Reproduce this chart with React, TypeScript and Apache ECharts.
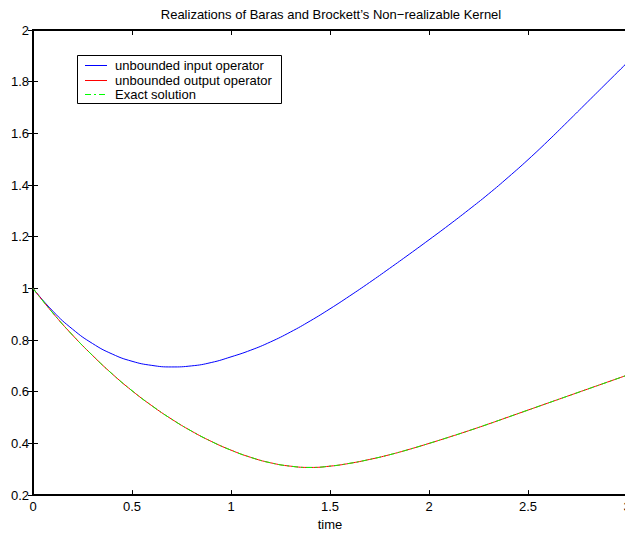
import React, { useEffect, useRef } from "react";
import * as echarts from "echarts";

const TITLE = "Realizations of Baras and Brockett\u2019s Non\u2212realizable Kernel";
const X_LABEL = "time";
const SERIES_NAMES = ["unbounded input operator", "unbounded output operator", "Exact solution"];
const SERIES_COLORS = ["#0000ff", "#ff0000", "#00ff00"];

const TIME = [0, 0.1, 0.2, 0.3, 0.4, 0.5, 0.6, 0.7, 0.8, 0.9, 1.0, 1.1, 1.2, 1.3, 1.4, 1.5, 1.6, 1.7, 1.8, 1.9, 2.0, 2.1, 2.2, 2.3, 2.4, 2.5, 2.6, 2.7, 2.8, 2.9, 3.0];
const INPUT_OP = [1.0, 0.912, 0.842, 0.787, 0.746, 0.718, 0.702, 0.696, 0.7, 0.713, 0.735, 0.761, 0.793, 0.831, 0.874, 0.921, 0.971, 1.023, 1.077, 1.132, 1.188, 1.245, 1.304, 1.365, 1.43, 1.498, 1.57, 1.645, 1.721, 1.797, 1.873];
const OUTPUT_OP = [1.0, 0.905, 0.819, 0.741, 0.669, 0.604, 0.546, 0.494, 0.448, 0.408, 0.374, 0.346, 0.325, 0.312, 0.307, 0.312, 0.323, 0.338, 0.356, 0.377, 0.4, 0.424, 0.449, 0.475, 0.502, 0.529, 0.556, 0.583, 0.61, 0.637, 0.664];
const EXACT = [1.0, 0.905, 0.819, 0.741, 0.669, 0.604, 0.546, 0.494, 0.448, 0.408, 0.374, 0.346, 0.325, 0.312, 0.307, 0.312, 0.323, 0.338, 0.356, 0.377, 0.4, 0.424, 0.449, 0.475, 0.502, 0.529, 0.556, 0.583, 0.61, 0.637, 0.664];

const FONT = "'Liberation Sans', Arial, Helvetica, sans-serif";
const DASH = [6, 3, 2, 3];

export default function App() {
  const ref = useRef<HTMLDivElement>(null);
  useEffect(() => {
    if (!ref.current) return;
    const chart = echarts.init(ref.current, null, { renderer: "svg" });
    const pts = (ys: number[]) => TIME.map((t, i) => [t, ys[i]]);
    const axisLine = { show: true, lineStyle: { color: "#000", width: 2 } };
    const tick = { show: true, inside: true, length: 5, lineStyle: { color: "#000", width: 1 } };

    const rowY = [65.5, 80.5, 94.5];
    const legendGraphic: any[] = [
      {
        type: "rect",
        shape: { x: 77.5, y: 55.5, width: 204, height: 48 },
        style: { fill: "#fff", stroke: "#000", lineWidth: 1 },
        z: 100,
      },
    ];
    SERIES_NAMES.forEach((n, i) => {
      legendGraphic.push({
        type: "line",
        shape: { x1: 85, y1: rowY[i], x2: 107, y2: rowY[i] },
        style: { stroke: SERIES_COLORS[i], lineWidth: 1, lineDash: i === 2 ? DASH : null },
        z: 101,
      });
      legendGraphic.push({
        type: "text",
        x: 115,
        y: rowY[i],
        style: {
          text: n,
          fill: "#000",
          font: `13px ${FONT}`,
          verticalAlign: "middle",
          align: "left",
        },
        z: 101,
      });
    });

    chart.setOption({
      animation: false,
      backgroundColor: "#fff",
      textStyle: { fontFamily: FONT, color: "#000" },
      title: {
        text: TITLE,
        left: 331,
        textAlign: "center",
        top: 8,
        padding: 0,
        textStyle: { fontFamily: FONT, fontSize: 13, fontWeight: "normal", color: "#000" },
      },
      grid: { left: 33, right: 13, top: 30, bottom: 36, containLabel: false },
      graphic: legendGraphic,
      xAxis: [
        {
          type: "value",
          min: 0,
          max: 3,
          interval: 0.5,
          name: X_LABEL,
          nameLocation: "middle",
          nameGap: 21,
          nameTextStyle: { fontFamily: FONT, fontSize: 13, color: "#000" },
          axisLine,
          axisTick: tick,
          axisLabel: { fontFamily: FONT, fontSize: 13, color: "#000", margin: 5 },
          splitLine: { show: false },
        },
        {
          type: "value",
          position: "top",
          min: 0,
          max: 3,
          interval: 0.5,
          axisLine,
          axisTick: tick,
          axisLabel: { show: false },
          splitLine: { show: false },
        },
      ],
      yAxis: [
        {
          type: "value",
          min: 0.2,
          max: 2,
          interval: 0.2,
          axisLine,
          axisTick: tick,
          axisLabel: {
            fontFamily: FONT,
            fontSize: 13,
            color: "#000",
            margin: 4,
            formatter: (v: number) => String(Math.round(v * 10) / 10),
          },
          splitLine: { show: false },
        },
        {
          type: "value",
          position: "right",
          min: 0.2,
          max: 2,
          interval: 0.2,
          axisLine,
          axisTick: tick,
          axisLabel: { show: false },
          splitLine: { show: false },
        },
      ],
      series: [
        {
          name: SERIES_NAMES[0],
          type: "line",
          data: pts(INPUT_OP),
          smooth: true,
          symbol: "none",
          lineStyle: { color: SERIES_COLORS[0], width: 1 },
          itemStyle: { color: SERIES_COLORS[0] },
        },
        {
          name: SERIES_NAMES[1],
          type: "line",
          data: pts(OUTPUT_OP),
          smooth: true,
          symbol: "none",
          lineStyle: { color: SERIES_COLORS[1], width: 1 },
          itemStyle: { color: SERIES_COLORS[1] },
        },
        {
          name: SERIES_NAMES[2],
          type: "line",
          data: pts(EXACT),
          smooth: true,
          symbol: "none",
          lineStyle: { color: SERIES_COLORS[2], width: 1, type: DASH },
          itemStyle: { color: SERIES_COLORS[2] },
        },
      ],
    });
    return () => chart.dispose();
  }, []);
  return (
    <div style={{ position: "fixed", left: 0, top: 0, width: 625, height: 536, overflow: "hidden", background: "#fff" }}>
      <div ref={ref} style={{ width: 640, height: 536 }} />
    </div>
  );
}
